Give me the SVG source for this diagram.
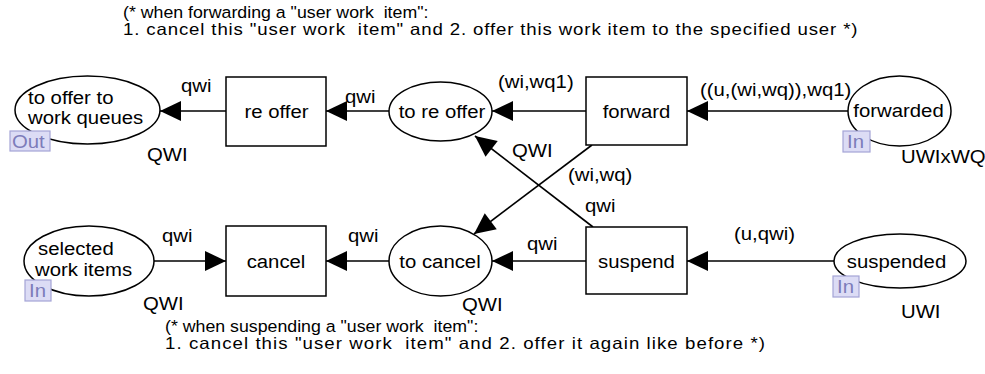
<svg xmlns="http://www.w3.org/2000/svg" width="985" height="374" viewBox="0 0 985 374">
  <defs>
    <marker id="arrow" markerUnits="userSpaceOnUse" markerWidth="24" markerHeight="24" refX="21" refY="0" orient="auto" overflow="visible">
      <path d="M0,-10 L21,0 L0,10 Z" fill="#000"/>
    </marker>
    <style>
      text { font-family: "Liberation Sans", Arial, Helvetica, sans-serif; fill: #000; }
      .lbl { font-size: 18px; }
      .mid { text-anchor: middle; }
      .cmt { font-size: 15.7px; white-space: pre; }
      .cmt2 { font-size: 16.5px; white-space: pre; }
      .place { fill: #fff; stroke: #000; stroke-width: 1.5; }
      .trans { fill: #fff; stroke: #000; stroke-width: 1.5; }
      .arc { fill: none; stroke: #000; stroke-width: 1.6; marker-end: url(#arrow); }
      .tag { fill: #dcdcf5; stroke: #a4a4d6; stroke-width: 1.2; }
      .tagtxt { font-size: 18px; fill: #7c7cba; }
    </style>
  </defs>
  <rect width="985" height="374" fill="#fff"/>

  <!-- comments -->
  <g id="comment-forward">
    <text class="cmt" xml:space="preserve" transform="translate(123,18) scale(1.13,1)">(* when forwarding a "user work  item":</text>
    <text class="cmt2" xml:space="preserve" transform="translate(123,35) scale(1.13,1)" textLength="650" lengthAdjust="spacing">1. cancel this "user work  item" and 2. offer this work item to the specified user *)</text>
  </g>
  <g id="comment-suspend">
    <text class="cmt" xml:space="preserve" transform="translate(165,332) scale(1.13,1)">(* when suspending a "user work  item":</text>
    <text class="cmt2" xml:space="preserve" transform="translate(165,349) scale(1.13,1)" textLength="531" lengthAdjust="spacing">1. cancel this "user work  item" and 2. offer it again like before *)</text>
  </g>

  <!-- connectors -->
  <g id="arcs">
    <line class="arc" x1="226" y1="111" x2="160" y2="111"/>
    <line class="arc" x1="389" y1="111" x2="326" y2="111"/>
    <line class="arc" x1="586" y1="111" x2="492" y2="111"/>
    <line class="arc" x1="848" y1="111" x2="687" y2="111"/>
    <line class="arc" x1="154" y1="261" x2="226" y2="261"/>
    <line class="arc" x1="389" y1="261" x2="326" y2="261"/>
    <line class="arc" x1="586" y1="261" x2="492" y2="261"/>
    <line class="arc" x1="834" y1="261" x2="687" y2="261"/>
    <line class="arc" x1="592" y1="145" x2="474" y2="234"/>
    <line class="arc" x1="593" y1="227" x2="475" y2="136"/>

    <text class="lbl" transform="translate(181,92) scale(1.13,1)">qwi</text>
    <text class="lbl" transform="translate(345,103) scale(1.13,1)">qwi</text>
    <text class="lbl" transform="translate(498,88) scale(1.13,1)">(wi,wq1)</text>
    <text class="lbl" transform="translate(700,96) scale(1.13,1)">((u,(wi,wq)),wq1)</text>
    <text class="lbl" transform="translate(162,242) scale(1.13,1)">qwi</text>
    <text class="lbl" transform="translate(348,242) scale(1.13,1)">qwi</text>
    <text class="lbl" transform="translate(527,250) scale(1.13,1)">qwi</text>
    <text class="lbl" transform="translate(734,240) scale(1.13,1)">(u,qwi)</text>
    <text class="lbl" transform="translate(568,181) scale(1.13,1)">(wi,wq)</text>
    <text class="lbl" transform="translate(585,212) scale(1.13,1)">qwi</text>
  </g>

  <!-- places -->
  <g id="to-offer-to-work-queues">
    <ellipse class="place" cx="87.5" cy="110" rx="72.5" ry="34"/>
    <text class="lbl" transform="translate(28,104) scale(1.13,1)">to offer to</text>
    <text class="lbl" transform="translate(28,124) scale(1.13,1)">work queues</text>
    <rect class="tag" x="10" y="131" width="40" height="20"/>
    <text class="tagtxt" transform="translate(12,148) scale(1.13,1)">Out</text>
    <text class="lbl" transform="translate(147,161) scale(1.13,1)">QWI</text>
  </g>

  <g id="to-re-offer">
    <ellipse class="place" cx="440.5" cy="111.5" rx="51.5" ry="29.5"/>
    <text class="lbl mid" transform="translate(442,118) scale(1.13,1)">to re offer</text>
    <text class="lbl" transform="translate(512,157) scale(1.13,1)">QWI</text>
  </g>

  <g id="forwarded">
    <ellipse class="place" cx="899.5" cy="111" rx="51.5" ry="35"/>
    <text class="lbl mid" transform="translate(898.5,117) scale(1.13,1)">forwarded</text>
    <rect class="tag" x="843" y="131" width="27" height="21"/>
    <text class="tagtxt" transform="translate(847,148) scale(1.13,1)">In</text>
    <text class="lbl" transform="translate(901,163) scale(1.13,1)">UWIxWQ</text>
  </g>

  <g id="selected-work-items">
    <ellipse class="place" cx="89" cy="261" rx="65" ry="35"/>
    <text class="lbl" transform="translate(38,255) scale(1.13,1)">selected</text>
    <text class="lbl" transform="translate(35,276) scale(1.13,1)">work items</text>
    <rect class="tag" x="25" y="280" width="26" height="21"/>
    <text class="tagtxt" transform="translate(29,297) scale(1.13,1)">In</text>
    <text class="lbl" transform="translate(143,310) scale(1.13,1)">QWI</text>
  </g>

  <g id="to-cancel">
    <ellipse class="place" cx="440.5" cy="261" rx="51.5" ry="35"/>
    <text class="lbl mid" transform="translate(440,268) scale(1.13,1)">to cancel</text>
    <text class="lbl" transform="translate(462,311) scale(1.13,1)">QWI</text>
  </g>

  <g id="suspended">
    <ellipse class="place" cx="900" cy="261" rx="66" ry="27"/>
    <text class="lbl mid" transform="translate(896.5,268) scale(1.13,1)">suspended</text>
    <rect class="tag" x="833" y="276" width="26" height="21"/>
    <text class="tagtxt" transform="translate(837,293) scale(1.13,1)">In</text>
    <text class="lbl" transform="translate(901,318) scale(1.13,1)">UWI</text>
  </g>

  <!-- transitions -->
  <g id="re-offer">
    <rect class="trans" x="226" y="77" width="100" height="69"/>
    <text class="lbl mid" transform="translate(276.5,118) scale(1.13,1)">re offer</text>
  </g>

  <g id="forward">
    <rect class="trans" x="586" y="77" width="101" height="68"/>
    <text class="lbl mid" transform="translate(636.5,118) scale(1.13,1)">forward</text>
  </g>

  <g id="cancel">
    <rect class="trans" x="226" y="226" width="100" height="70"/>
    <text class="lbl mid" transform="translate(276,268) scale(1.13,1)">cancel</text>
  </g>

  <g id="suspend">
    <rect class="trans" x="586" y="227" width="101" height="67"/>
    <text class="lbl mid" transform="translate(636.5,268) scale(1.13,1)">suspend</text>
  </g>
</svg>
